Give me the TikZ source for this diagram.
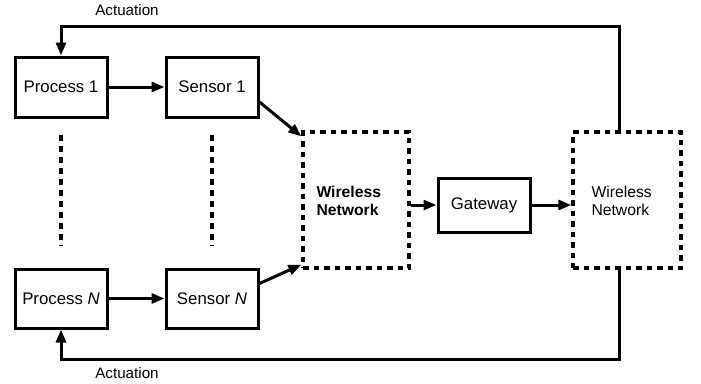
\documentclass[tikz,border=0pt]{standalone}
\usepackage{fontspec}
\setmainfont{Liberation Sans}
\usetikzlibrary{arrows.meta,calc}
\begin{document}
\begin{tikzpicture}[x=1pt,y=-1pt,
  box/.style={draw,line width=3pt,inner sep=0pt,minimum width=92pt,minimum height=60pt,font=\fontsize{16.8}{20}\selectfont},
  net/.style={draw,line width=3.3pt,dash pattern=on 5.5pt off 5pt,inner sep=0pt},
  arr/.style={line width=3pt,-{Triangle[length=13pt,width=10pt]}},
  dots/.style={line width=3.3pt,dash pattern=on 6pt off 5pt},
  nettext/.style={align=left,inner sep=0pt,font=\fontsize{15.7}{18.5}\selectfont},
  lab/.style={inner sep=0pt,font=\fontsize{15.2}{18}\selectfont}]
\useasboundingbox (0,0) rectangle (701,383);
\node[box] (p1) at (61,87) {Process 1};
\node[box] (s1) at (212,87) {Sensor 1};
\node[box,minimum height=59pt] (pN) at (61,298.5) {Process \textit{N}};
\node[box,minimum height=59pt] (sN) at (212,298.5) {Sensor \textit{N}};
\node[net,minimum width=106pt,minimum height=136pt] (wn1) at (356,200) {};
\node[nettext,font=\fontsize{15.7}{18.5}\selectfont\bfseries,anchor=west] (wn1t) at ([xshift=15pt,yshift=-1pt]wn1.west) {Wireless\\Network};
\node[box,minimum height=54pt] (gw) at (484,205) {Gateway};
\node[net,minimum width=108pt,minimum height=136pt] (wn2) at (627,200) {};
\node[nettext,anchor=west] (wn2t) at ([xshift=20pt,yshift=-1pt]wn2.west) {Wireless\\Network};
\node[lab] (a1) at (127,10) {Actuation};
\node[lab] (a2) at (127,373) {Actuation};
\coordinate (tr) at (619,26);
\coordinate (br) at (619,359);
\draw[arr] (p1) -- (s1);
\draw[arr] (pN) -- (sN);
\draw[arr] ([yshift=-15pt]s1.east) -- ([yshift=-6pt]wn1.north west);
\draw[arr] ([yshift=15pt]sN.east) -- ([yshift=5pt]wn1.south west);
\draw[arr] (gw.west -| wn1.east) -- (gw.west);
\draw[arr] (gw.east) -- (gw.east -| wn2.west);
\draw[arr] (wn2.north -| tr) -- (tr) -| (p1.north);
\draw[arr] (wn2.south -| br) -- (br) -| (pN.south);
\draw[dots] ([yshift=-16pt]p1.south) -- ([yshift=22pt]pN.north);
\draw[dots] ([yshift=-16pt]s1.south) -- ([yshift=22pt]sN.north);
\end{tikzpicture}
\end{document}
